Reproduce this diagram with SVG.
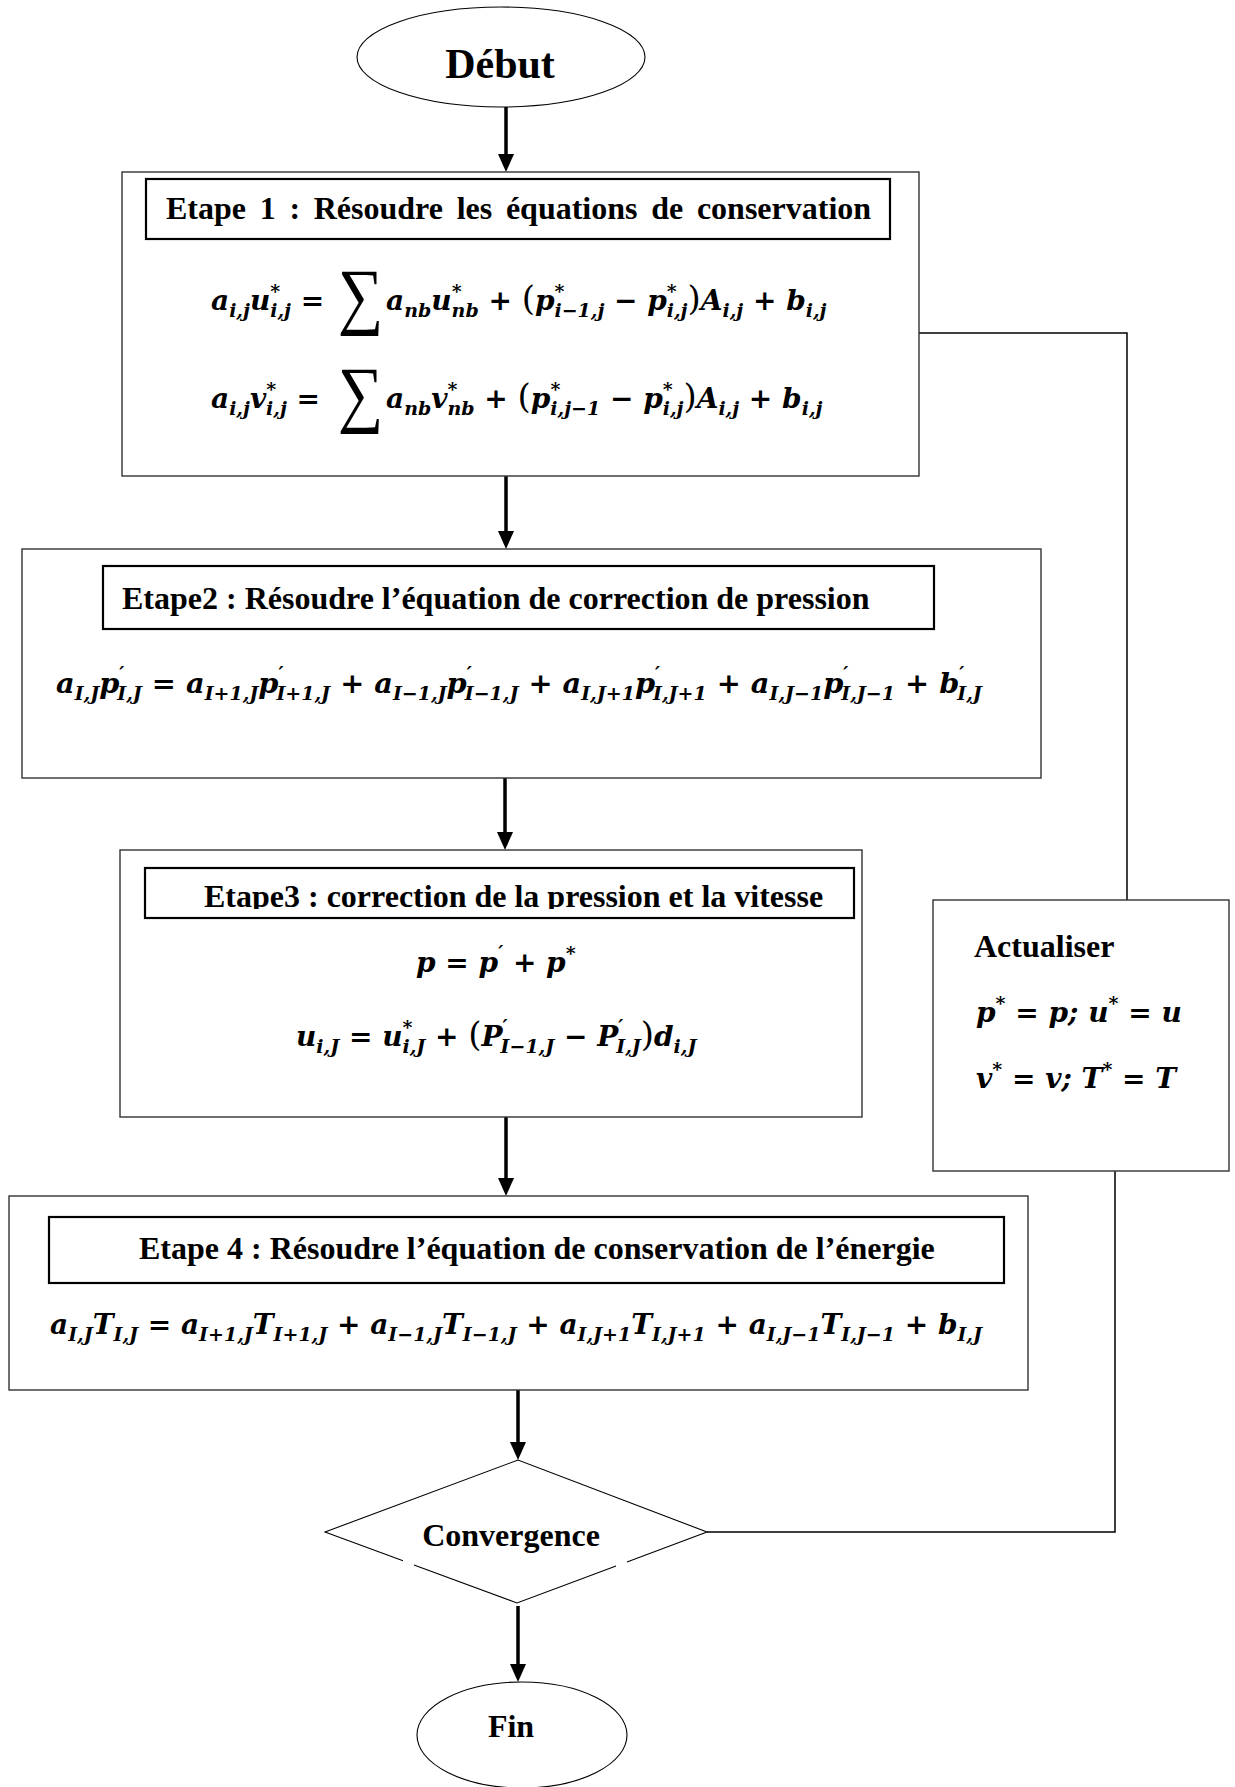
<svg xmlns="http://www.w3.org/2000/svg" width="1235" height="1787" viewBox="0 0 1235 1787">
<defs>
<style>
.box{fill:#fff;stroke:#333;stroke-width:1.4}
.tbox{fill:#fff;stroke:#000;stroke-width:2.2}
.shape{fill:#fff;stroke:#000;stroke-width:1.1}
.t{font-family:"Liberation Serif","Times New Roman",serif;font-weight:bold;font-size:32px;fill:#000}
.m{font-family:"DejaVu Serif",serif;font-weight:bold;font-style:italic;font-size:28px;fill:#000}
.s{font-size:19px}
.par{font-size:34px;font-style:normal;font-weight:normal}
.sum{font-family:"Liberation Serif","DejaVu Serif",serif;font-size:58px;fill:#000}
.arr{stroke:#000;stroke-width:3.5;fill:none}
.fb{stroke:#000;stroke-width:1.5;fill:none}
</style>
<marker id="ah" markerUnits="userSpaceOnUse" markerWidth="18" markerHeight="16" viewBox="0 0 18 16" refX="8" refY="8" orient="auto">
<path d="M0,0 L18,8 L0,16 z" fill="#000"/>
</marker>
<clipPath id="clip3"><rect x="140" y="860" width="720" height="49"/></clipPath>
</defs>
<rect x="0" y="0" width="1235" height="1787" fill="#fff"/>

<g id="connectors">
<line class="arr" x1="506" y1="107" x2="506" y2="162" marker-end="url(#ah)"/>
<line class="arr" x1="506" y1="476" x2="506" y2="539" marker-end="url(#ah)"/>
<line class="arr" x1="505" y1="778" x2="505" y2="840" marker-end="url(#ah)"/>
<line class="arr" x1="506" y1="1117" x2="506" y2="1186" marker-end="url(#ah)"/>
<line class="arr" x1="518" y1="1390" x2="518" y2="1450" marker-end="url(#ah)"/>
<line class="arr" x1="518" y1="1606" x2="518" y2="1672" marker-end="url(#ah)"/>
<polyline class="fb" points="707,1532 1115,1532 1115,1171"/>
<polyline class="fb" points="1127,900 1127,333 919,333"/>
</g>

<g id="debut">
<ellipse class="shape" cx="501" cy="57" rx="144" ry="50"/>
<text class="t" x="500" y="78" text-anchor="middle" style="font-size:42px">Début</text>
</g>

<g id="etape1">
<rect class="box" x="122" y="172" width="797" height="304"/>
<rect class="tbox" x="146" y="179" width="744" height="60"/>
<text class="t" x="166" y="219" style="word-spacing:5.7px">Etape 1 : Résoudre les équations de conservation</text>
<text class="m" x="211" y="310">a<tspan class="s" dy="7">i,j</tspan><tspan dy="-7">u</tspan><tspan class="s" dy="-12">*</tspan><tspan class="s" dx="-10" dy="19">i,j</tspan><tspan dy="-7"> =</tspan></text>
<text class="sum" transform="translate(338,320) scale(1.1,1.28)" x="0" y="0">∑</text>
<text class="m" x="386" y="310">a<tspan class="s" dy="7">nb</tspan><tspan dy="-7">u</tspan><tspan class="s" dy="-12">*</tspan><tspan class="s" dx="-10" dy="19">nb</tspan><tspan dy="-7"> + </tspan><tspan class="par">(</tspan><tspan>p</tspan><tspan class="s" dy="-12">*</tspan><tspan class="s" dx="-10" dy="19">i−1,j</tspan><tspan dy="-7"> − p</tspan><tspan class="s" dy="-12">*</tspan><tspan class="s" dx="-10" dy="19">i,j</tspan><tspan class="par" dy="-7">)</tspan><tspan>A</tspan><tspan class="s" dy="7">i,j</tspan><tspan dy="-7"> + b</tspan><tspan class="s" dy="7">i,j</tspan></text>
<text class="m" x="211" y="408">a<tspan class="s" dy="7">i,j</tspan><tspan dy="-7">v</tspan><tspan class="s" dy="-12">*</tspan><tspan class="s" dx="-10" dy="19">i,j</tspan><tspan dy="-7"> =</tspan></text>
<text class="sum" transform="translate(338,418) scale(1.1,1.28)" x="0" y="0">∑</text>
<text class="m" x="386" y="408">a<tspan class="s" dy="7">nb</tspan><tspan dy="-7">v</tspan><tspan class="s" dy="-12">*</tspan><tspan class="s" dx="-10" dy="19">nb</tspan><tspan dy="-7"> + </tspan><tspan class="par">(</tspan><tspan>p</tspan><tspan class="s" dy="-12">*</tspan><tspan class="s" dx="-10" dy="19">i,j−1</tspan><tspan dy="-7"> − p</tspan><tspan class="s" dy="-12">*</tspan><tspan class="s" dx="-10" dy="19">i,j</tspan><tspan class="par" dy="-7">)</tspan><tspan>A</tspan><tspan class="s" dy="7">i,j</tspan><tspan dy="-7"> + b</tspan><tspan class="s" dy="7">i,j</tspan></text>
</g>

<g id="etape2">
<rect class="box" x="22" y="549" width="1019" height="229"/>
<rect class="tbox" x="103" y="566" width="831" height="63"/>
<text class="t" x="122" y="609">Etape2 : Résoudre l’équation de correction de pression</text>
<text class="m" x="56" y="693" style="font-size:28.8px">a<tspan class="s" dy="7">I,J</tspan><tspan dy="-7">p</tspan><tspan class="s" dy="-13">′</tspan><tspan class="s" dx="-7" dy="20">I,J</tspan><tspan dy="-7"> = a</tspan><tspan class="s" dy="7">I+1,J</tspan><tspan dy="-7">p</tspan><tspan class="s" dy="-13">′</tspan><tspan class="s" dx="-7" dy="20">I+1,J</tspan><tspan dy="-7"> + a</tspan><tspan class="s" dy="7">I−1,J</tspan><tspan dy="-7">p</tspan><tspan class="s" dy="-13">′</tspan><tspan class="s" dx="-7" dy="20">I−1,J</tspan><tspan dy="-7"> + a</tspan><tspan class="s" dy="7">I,J+1</tspan><tspan dy="-7">p</tspan><tspan class="s" dy="-13">′</tspan><tspan class="s" dx="-7" dy="20">I,J+1</tspan><tspan dy="-7"> + a</tspan><tspan class="s" dy="7">I,J−1</tspan><tspan dy="-7">p</tspan><tspan class="s" dy="-13">′</tspan><tspan class="s" dx="-7" dy="20">I,J−1</tspan><tspan dy="-7"> + b</tspan><tspan class="s" dy="-13">′</tspan><tspan class="s" dx="-7" dy="20">I,J</tspan></text>
</g>

<g id="etape3">
<rect class="box" x="120" y="850" width="742" height="267"/>
<rect class="tbox" x="145" y="868" width="709" height="50"/>
<text class="t" x="204" y="907" clip-path="url(#clip3)">Etape3 : correction de la pression et la vitesse</text>
<text class="m" x="416" y="972">p = p<tspan class="s" dy="-13">′</tspan><tspan dy="13"> + p</tspan><tspan class="s" dy="-12">*</tspan></text>
<text class="m" x="296" y="1046">u<tspan class="s" dy="7">i,J</tspan><tspan dy="-7"> = u</tspan><tspan class="s" dy="-12">*</tspan><tspan class="s" dx="-10" dy="19">i,J</tspan><tspan dy="-7"> + </tspan><tspan class="par">(</tspan><tspan>P</tspan><tspan class="s" dy="-13">′</tspan><tspan class="s" dx="-7" dy="20">I−1,J</tspan><tspan dy="-7"> − P</tspan><tspan class="s" dy="-13">′</tspan><tspan class="s" dx="-7" dy="20">I,J</tspan><tspan class="par" dy="-7">)</tspan><tspan>d</tspan><tspan class="s" dy="7">i,J</tspan></text>
</g>

<g id="actualiser">
<rect class="box" x="933" y="900" width="296" height="271"/>
<text class="t" x="974" y="957">Actualiser</text>
<text class="m" x="976" y="1022">p<tspan class="s" dy="-12">*</tspan><tspan dy="12"> = p; u</tspan><tspan class="s" dy="-12">*</tspan><tspan dy="12"> = u</tspan></text>
<text class="m" x="976" y="1088">v<tspan class="s" dy="-12">*</tspan><tspan dy="12"> = v; T</tspan><tspan class="s" dy="-12">*</tspan><tspan dy="12"> = T</tspan></text>
</g>

<g id="etape4">
<rect class="box" x="9" y="1196" width="1019" height="194"/>
<rect class="tbox" x="49" y="1217" width="955" height="66"/>
<text class="t" x="139" y="1259">Etape 4 : Résoudre l’équation de conservation de l’énergie</text>
<text class="m" x="50" y="1334">a<tspan class="s" dy="7">I,J</tspan><tspan dy="-7">T</tspan><tspan class="s" dy="7">I,J</tspan><tspan dy="-7"> = a</tspan><tspan class="s" dy="7">I+1,J</tspan><tspan dy="-7">T</tspan><tspan class="s" dy="7">I+1,J</tspan><tspan dy="-7"> + a</tspan><tspan class="s" dy="7">I−1,J</tspan><tspan dy="-7">T</tspan><tspan class="s" dy="7">I−1,J</tspan><tspan dy="-7"> + a</tspan><tspan class="s" dy="7">I,J+1</tspan><tspan dy="-7">T</tspan><tspan class="s" dy="7">I,J+1</tspan><tspan dy="-7"> + a</tspan><tspan class="s" dy="7">I,J−1</tspan><tspan dy="-7">T</tspan><tspan class="s" dy="7">I,J−1</tspan><tspan dy="-7"> + b</tspan><tspan class="s" dy="7">I,J</tspan></text>
</g>

<g id="convergence">
<path class="shape" fill="none" d="M403,1560.8 L325,1532 L518,1460 L707,1532 L627,1561.9 M616,1566 L517,1603 L414,1564.9"/>
<text class="t" x="511" y="1546" text-anchor="middle">Convergence</text>
</g>

<g id="fin">
<ellipse class="shape" cx="522" cy="1735" rx="105" ry="53"/>
<text class="t" x="511" y="1737" text-anchor="middle">Fin</text>
</g>
</svg>
